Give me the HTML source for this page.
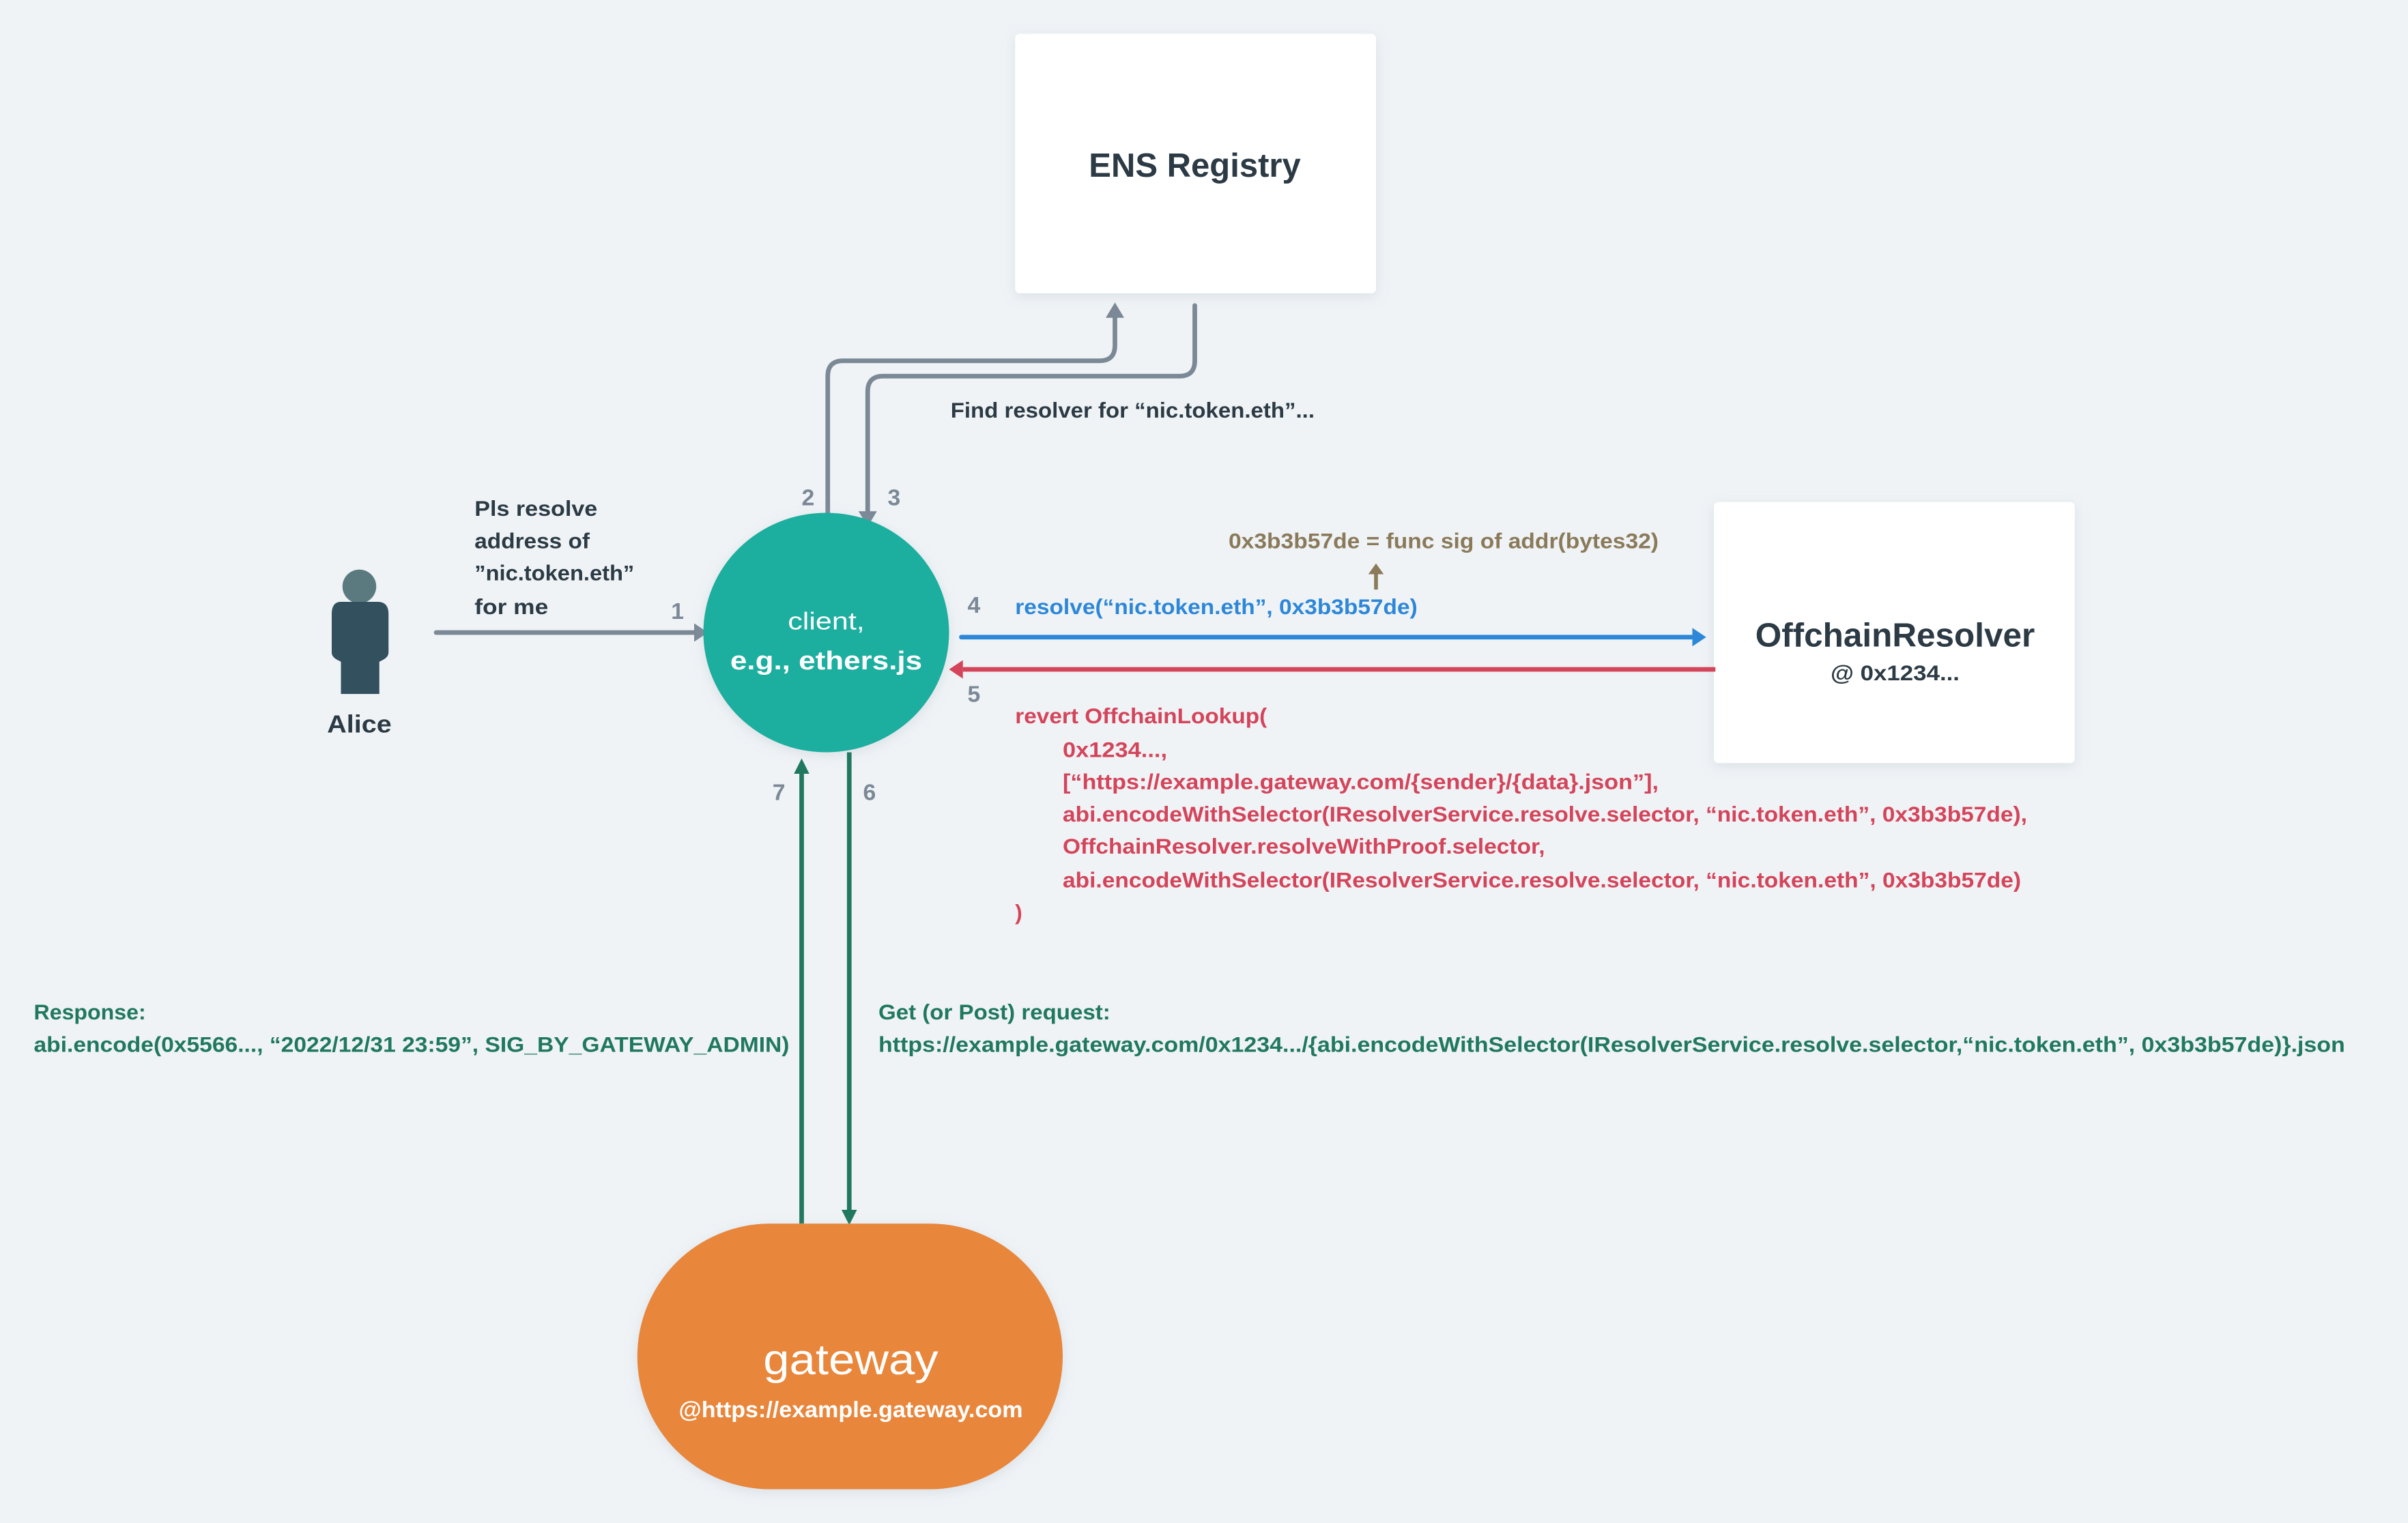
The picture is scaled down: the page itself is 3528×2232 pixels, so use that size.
<!DOCTYPE html>
<html><head><meta charset="utf-8"><style>
html,body{margin:0;padding:0;background:#eff3f6;}
svg{display:block}
text{font-family:"Liberation Sans",sans-serif;font-weight:bold}
</style></head><body>
<svg width="3528" height="2232" viewBox="0 0 1568 992" xmlns="http://www.w3.org/2000/svg">
<defs>
<filter id="sh" x="-20%" y="-20%" width="140%" height="140%"><feDropShadow dx="0" dy="2" stdDeviation="4" flood-color="#9aa8b4" flood-opacity="0.25"/></filter>
</defs>
<rect width="1568" height="992" fill="#eff3f6"/>

<!-- ENS Registry -->
<rect x="661" y="22" width="235" height="169" rx="3" fill="#fff" filter="url(#sh)"/>
<text x="778" y="115" font-size="22" fill="#2b3a44" text-anchor="middle" textLength="138" lengthAdjust="spacingAndGlyphs">ENS Registry</text>

<!-- OffchainResolver -->
<rect x="1116" y="327" width="235" height="170" rx="3" fill="#fff" filter="url(#sh)"/>
<text x="1234" y="421" font-size="22" fill="#2b3a44" text-anchor="middle" textLength="182" lengthAdjust="spacingAndGlyphs">OffchainResolver</text>
<text x="1234" y="443" font-size="14" fill="#2b3a44" text-anchor="middle" textLength="84" lengthAdjust="spacingAndGlyphs">@ 0x1234...</text>

<!-- gray arrows 2/3 -->
<g fill="none" stroke="#7b8896" stroke-width="3" stroke-linecap="round">
<path d="M539 334 V245 Q539 235 549 235 H716 Q726 235 726 225 V205"/>
<path d="M778 199 V235 Q778 245 768 245 H575 Q565 245 565 255 V334"/>
<path d="M284 412 H452"/>
</g>
<g fill="#7b8896">
<path d="M720 207 L726 197 L732 207 Z"/>
<path d="M559 333 L565 343 L571 333 Z"/>
<path d="M452 406 L461 412 L452 418 Z"/>
</g>
<text x="619" y="272" font-size="14" fill="#2b3a44" textLength="237" lengthAdjust="spacingAndGlyphs">Find resolver for “nic.token.eth”...</text>

<!-- numbers -->
<g font-size="15" fill="#7b8896">
<text x="437" y="403">1</text><text x="522" y="329">2</text><text x="578" y="329">3</text>
<text x="630" y="399">4</text><text x="630" y="457">5</text><text x="562" y="521">6</text><text x="503" y="521">7</text>
</g>

<!-- Alice -->
<ellipse cx="234" cy="382" rx="11" ry="11" fill="#5a7a80"/>
<path d="M222 392 H246 Q253 392 253 400 V425 Q253 428 249 430 L247 431 V452 H222 V431 L220 430 Q216 428 216 425 V400 Q216 392 222 392 Z" fill="#33505f"/>
<text x="234" y="477" font-size="16" fill="#2b3a44" text-anchor="middle" textLength="42" lengthAdjust="spacingAndGlyphs">Alice</text>
<g font-size="14" fill="#2b3a44">
<text x="309" y="336" textLength="80" lengthAdjust="spacingAndGlyphs">Pls resolve</text>
<text x="309" y="357" textLength="75" lengthAdjust="spacingAndGlyphs">address of</text>
<text x="309" y="378" textLength="104" lengthAdjust="spacingAndGlyphs">”nic.token.eth”</text>
<text x="309" y="400" textLength="48" lengthAdjust="spacingAndGlyphs">for me</text>
</g>

<!-- client -->
<ellipse cx="538" cy="412" rx="80" ry="78" fill="#1aae9f" filter="url(#sh)"/>
<text x="538" y="410" font-size="16" fill="#fff" text-anchor="middle" font-weight="normal" style="font-weight:normal" textLength="50" lengthAdjust="spacingAndGlyphs">client,</text>
<text x="538" y="436" font-size="17" fill="#fff" text-anchor="middle" textLength="125" lengthAdjust="spacingAndGlyphs">e.g., ethers.js</text>

<!-- blue / red -->
<path d="M626 415 H1102" stroke="#2d87d8" stroke-width="3" stroke-linecap="round"/>
<path d="M1102 409 L1111 415 L1102 421 Z" fill="#2d87d8"/>
<path d="M1117 436 H627" stroke="#d4445a" stroke-width="3"/>
<path d="M627 430 L618 436 L627 442 Z" fill="#d4445a"/>
<text x="661" y="400" font-size="14" fill="#2d87d8" textLength="262" lengthAdjust="spacingAndGlyphs">resolve(“nic.token.eth”, 0x3b3b57de)</text>
<text x="800" y="357" font-size="14" fill="#8a7a5a" textLength="280" lengthAdjust="spacingAndGlyphs">0x3b3b57de = func sig of addr(bytes32)</text>
<path d="M896 384 V373" stroke="#8a7a5a" stroke-width="2.5"/>
<path d="M891 374 L896 367 L901 374 Z" fill="#8a7a5a"/>

<g font-size="14" fill="#d4445a">
<text x="661" y="471" textLength="164" lengthAdjust="spacingAndGlyphs">revert OffchainLookup(</text>
<text x="692" y="493" textLength="68" lengthAdjust="spacingAndGlyphs">0x1234...,</text>
<text x="692" y="514" textLength="388" lengthAdjust="spacingAndGlyphs">[“https://example.gateway.com/{sender}/{data}.json”],</text>
<text x="692" y="535" textLength="628" lengthAdjust="spacingAndGlyphs">abi.encodeWithSelector(IResolverService.resolve.selector, “nic.token.eth”, 0x3b3b57de),</text>
<text x="692" y="556" textLength="314" lengthAdjust="spacingAndGlyphs">OffchainResolver.resolveWithProof.selector,</text>
<text x="692" y="578" textLength="624" lengthAdjust="spacingAndGlyphs">abi.encodeWithSelector(IResolverService.resolve.selector, “nic.token.eth”, 0x3b3b57de)</text>
<text x="661" y="599">)</text>
</g>

<!-- green arrows -->
<path d="M522 797 V502" stroke="#20785f" stroke-width="3"/>
<path d="M517 504 L522 494 L527 504 Z" fill="#20785f"/>
<path d="M553 490 V789" stroke="#20785f" stroke-width="3"/>
<path d="M548 788 L553 798 L558 788 Z" fill="#20785f"/>
<g font-size="14" fill="#20785f">
<text x="22" y="664" textLength="73" lengthAdjust="spacingAndGlyphs">Response:</text>
<text x="22" y="685" textLength="492" lengthAdjust="spacingAndGlyphs">abi.encode(0x5566..., “2022/12/31 23:59”, SIG_BY_GATEWAY_ADMIN)</text>
<text x="572" y="664" textLength="151" lengthAdjust="spacingAndGlyphs">Get (or Post) request:</text>
<text x="572" y="685" textLength="955" lengthAdjust="spacingAndGlyphs">https://example.gateway.com/0x1234.../{abi.encodeWithSelector(IResolverService.resolve.selector,“nic.token.eth”, 0x3b3b57de)}.json</text>
</g>

<!-- gateway -->
<rect x="415" y="797" width="277" height="173" rx="86.5" fill="#e8863a" filter="url(#sh)"/>
<text x="554" y="895" font-size="28" fill="#fff" text-anchor="middle" style="font-weight:normal" textLength="114" lengthAdjust="spacingAndGlyphs">gateway</text>
<text x="554" y="923" font-size="15" fill="#fff" text-anchor="middle" textLength="224" lengthAdjust="spacingAndGlyphs">@https://example.gateway.com</text>
</svg>
</body></html>
